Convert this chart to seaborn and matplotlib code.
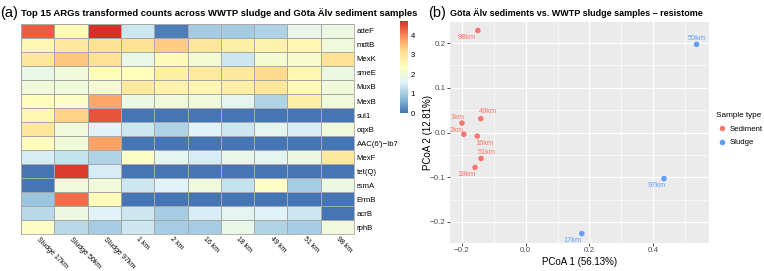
import numpy as np
import pandas as pd
import matplotlib
matplotlib.use("Agg")
import matplotlib.pyplot as plt
from matplotlib.colors import LinearSegmentedColormap
import seaborn as sns

# ---------------- data ----------------
genes = ["adeF", "mdtB", "MexK", "smeE", "MuxB", "MexB", "sul1", "oqxB",
         "AAC(6')\u2212Ib7", "MexF", "tet(Q)", "rsmA", "ErmB", "acrB", "rphB"]
samples = ["Sludge 17km", "Sludge 50km", "Sludge 97km", "1 km", "2 km",
           "16 km", "18 km", "49 km", "51 km", "98 km"]
adeF = [4.35, 2.5, 4.75, 1.4, 0.1, 1.0, 1.0, 1.1, 1.8, 1.9]
mdtB = [2.6, 2.9, 3.1, 3.1, 3.35, 3.0, 2.8, 2.7, 2.6, 2.0]
MexK = [3.0, 3.4, 3.1, 1.8, 2.5, 2.1, 1.4, 2.1, 2.2, 3.1]
smeE = [1.8, 2.0, 2.4, 2.4, 2.8, 2.9, 2.9, 3.2, 2.6, 1.9]
MuxB = [2.0, 2.0, 2.1, 2.9, 2.7, 2.6, 2.8, 3.0, 2.5, 2.0]
MexB = [2.4, 2.3, 3.7, 1.9, 2.0, 2.0, 1.7, 1.1, 2.8, 2.0]
sul1 = [2.6, 3.3, 4.45, 0, 0, 0, 0, 0, 0, 0]
oqxB = [3.0, 2.0, 1.6, 1.4, 1.1, 1.6, 1.4, 1.7, 1.5, 2.0]
AAC = [2.4, 2.0, 3.75, 0, 0, 0, 0, 0, 0, 0]
MexF = [1.5, 1.3, 1.1, 2.3, 1.7, 1.5, 1.8, 1.7, 1.9, 2.9]
tetQ = [0, 4.65, 1.5, 0, 0, 0, 0, 0, 0, 0]
rsmA = [0, 2.0, 2.0, 1.4, 1.6, 2.0, 1.3, 2.3, 1.0, 1.9]
ErmB = [0.9, 4.2, 2.5, 0, 0, 0, 0, 0, 0, 0]
acrB = [1.2, 1.9, 1.6, 1.4, 1.0, 1.5, 1.7, 1.6, 1.4, 0]
rphB = [2.3, 1.2, 1.0, 1.4, 1.0, 1.0, 1.8, 1.1, 1.0, 2.0]
rows = [adeF, mdtB, MexK, smeE, MuxB, MexB, sul1, oqxB, AAC, MexF,
        tetQ, rsmA, ErmB, acrB, rphB]

pcoa_labels = ["98km", "50km", "49km", "1km", "2km", "16km", "51km",
               "18km", "97km", "17km"]
pcoa1 = [-0.150, 0.536, -0.141, -0.200, -0.194, -0.152, -0.140, -0.159, 0.434, 0.176]
pcoa2 = [0.228, 0.197, 0.031, 0.021, -0.004, -0.008, -0.058, -0.078, -0.103, -0.226]
sample_type = ["Sediment", "Sludge", "Sediment", "Sediment", "Sediment",
               "Sediment", "Sediment", "Sediment", "Sludge", "Sludge"]
# label offsets in points (layout only)
label_dx = [-8, 0, 5, -3, -5, 5, 4, -6, -5, -7]
label_dy = [-5, 4, 5, 4, 3, -5, 4, -5, -5, -5]

# ---------------- style ----------------
plt.rcParams["font.family"] = ["Liberation Sans", "DejaVu Sans"]
W, H = 764, 271
fig = plt.figure(figsize=(W / 100, H / 100), dpi=100)

def fx(px):
    return px / W

def fy(py):
    return 1 - py / H

cmap = LinearSegmentedColormap.from_list(
    "ph", ["#4575B4", "#91BFDB", "#E0F3F8", "#FFFFBF", "#FEE090", "#FC8D59", "#D73027"])

df = pd.DataFrame(rows, index=genes, columns=samples)

ax_h = fig.add_axes([fx(21), fy(234), fx(333), (234 - 24) / H])
ax_c = fig.add_axes([fx(400), fy(113), fx(8), (113 - 21) / H])
sns.heatmap(df, ax=ax_h, cmap=cmap, vmin=0, vmax=4.75, cbar_ax=ax_c,
            linewidths=0.6, linecolor="#A8A8A8")
ax_h.yaxis.tick_right()
ax_h.set_yticks(np.arange(len(genes)) + 0.5)
ax_h.set_yticklabels(genes, rotation=0, fontsize=5.6, ha="left")
ax_h.set_xticks(np.arange(len(samples)) + 0.5)
ax_h.set_xticklabels(samples, rotation=-45, fontsize=5.0, ha="left", va="center",
                     rotation_mode="anchor")
ax_h.tick_params(axis="both", length=0, pad=2)
ax_h.tick_params(axis="x", pad=3)
ax_h.set_xlabel("")
ax_h.set_ylabel("")
for s in ["top", "bottom", "left", "right"]:
    ax_h.spines[s].set_visible(True)
    ax_h.spines[s].set_color("#A8A8A8")
    ax_h.spines[s].set_linewidth(0.6)

ax_c.set_yticks([0, 1, 2, 3, 4])
ax_c.set_yticklabels(["0", "1", "2", "3", "4"])
ax_c.tick_params(length=0, labelsize=5.6, pad=2)
for s in ax_c.spines.values():
    s.set_visible(False)

fig.text(0.0, fy(13), "(a)", fontsize=10.5, va="center", ha="left")
fig.text(fx(21), fy(13), "Top 15 ARGs transformed counts across WWTP sludge and G\u00f6ta \u00c4lv sediment samples",
         fontsize=6.8, fontweight="bold", va="center", ha="left")

# ---------------- PCoA ----------------
ax_p = fig.add_axes([fx(450), fy(243), fx(259), (243 - 22) / H])
ax_p.set_facecolor("#EBEBEB")
pdf = pd.DataFrame({"PCoA1": pcoa1, "PCoA2": pcoa2, "Sample type": sample_type,
                    "label": pcoa_labels})
pal = {"Sediment": "#F8766D", "Sludge": "#619CFF"}
sns.scatterplot(data=pdf, x="PCoA1", y="PCoA2", hue="Sample type",
                hue_order=["Sediment", "Sludge"], palette=pal, s=16,
                edgecolor="none", ax=ax_p, zorder=3)
for x, y, lab, t, dx, dy in zip(pcoa1, pcoa2, pcoa_labels, sample_type, label_dx, label_dy):
    ax_p.annotate(lab, (x, y), xytext=(dx, dy), textcoords="offset points",
                  fontsize=5.3, color=pal[t], ha="center", va="center", zorder=4)
ax_p.set_xlim(-0.2375, 0.575)
ax_p.set_ylim(-0.247, 0.247)
ax_p.set_xticks([-0.2, 0.0, 0.2, 0.4])
ax_p.set_xticklabels(["\u22120.2", "0.0", "0.2", "0.4"])
ax_p.set_yticks([-0.2, -0.1, 0.0, 0.1, 0.2])
ax_p.set_yticklabels(["\u22120.2", "\u22120.1", "0.0", "0.1", "0.2"])
ax_p.set_xticks([-0.1, 0.1, 0.3, 0.5], minor=True)
ax_p.set_yticks([-0.15, -0.05, 0.05, 0.15], minor=True)
ax_p.grid(which="major", color="white", linewidth=0.9)
ax_p.grid(which="minor", color="white", linewidth=0.45)
ax_p.set_axisbelow(True)
for s in ax_p.spines.values():
    s.set_visible(False)
ax_p.tick_params(which="major", length=2.2, width=0.6, color="#333333",
                 labelsize=5.8, labelcolor="#4D4D4D", pad=1)
ax_p.tick_params(which="minor", length=0)
ax_p.set_xlabel("PCoA 1 (56.13%)", fontsize=7, labelpad=2)
ax_p.set_ylabel("PCoA 2 (12.81%)", fontsize=7)
ax_p.yaxis.set_label_coords((433 - 450) / 259, 0.5)

leg = ax_p.legend(title="Sample type", loc="upper left",
                  bbox_to_anchor=(fx(713), fy(109)), bbox_transform=fig.transFigure,
                  frameon=False, fontsize=5.6, title_fontsize=5.9,
                  markerscale=1.0, handletextpad=0.1, borderaxespad=0,
                  labelspacing=0.8, alignment="left", handlelength=1.6)

fig.text(fx(428), fy(13), "(b)", fontsize=10.5, va="center", ha="left")
fig.text(fx(450), fy(13), "G\u00f6ta \u00c4lv sediments vs. WWTP sludge samples \u2013 resistome",
         fontsize=6.5, fontweight="bold", va="center", ha="left")

fig.savefig("out.png", dpi=100)
